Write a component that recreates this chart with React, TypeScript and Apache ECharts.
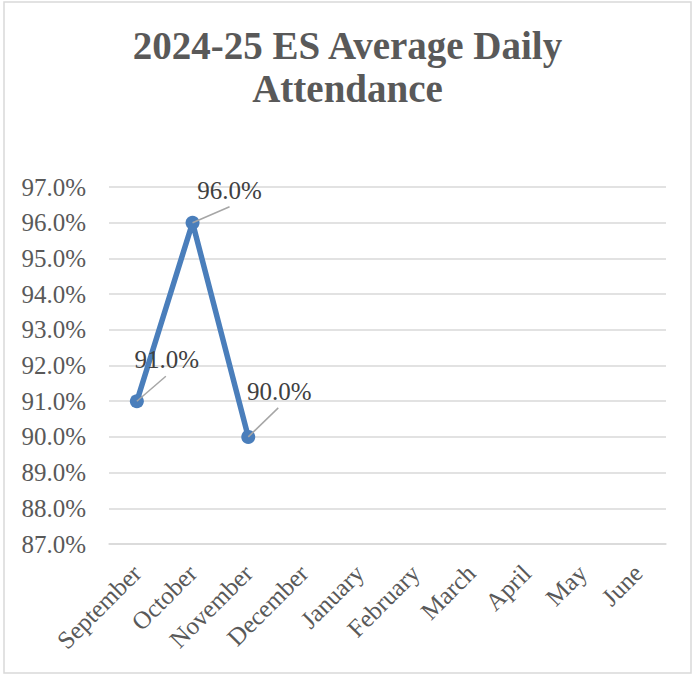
import React, { useEffect, useRef } from "react";
import * as echarts from "echarts";

const months = ["September", "October", "November", "December", "January", "February", "March", "April", "May", "June"];
const attendance = [91.0, 96.0, 90.0];
const yMin = 87;
const yMax = 97;
const yStep = 1;
// leader-line end (lx, ly) and label centre (tx, ty), relative to each point, in px
const labelShift = [
  { lx: 29, ly: -25, tx: 30, ty: -42 },
  { lx: 37, ly: -16, tx: 37, ty: -32 },
  { lx: 30, ly: -29, tx: 31, ty: -45 },
];

export default function App() {
  const ref = useRef<HTMLDivElement>(null);
  useEffect(() => {
    document.body.style.margin = "0";
    const chart = echarts.init(ref.current!, undefined, { renderer: "svg" });
    const font = "'Liberation Serif', serif";
    chart.setOption({
      animation: false,
      backgroundColor: "#ffffff",
      title: {
        text: "2024-25 ES Average Daily\nAttendance",
        left: "center",
        top: 19,
        textStyle: {
          fontFamily: font,
          fontSize: 39,
          lineHeight: 43,
          fontWeight: "bold",
          color: "#595959",
        },
      },
      graphic: [
        {
          type: "rect",
          shape: { x: 4, y: 2, width: 687, height: 671 },
          style: { fill: "none", stroke: "#d9d9d9", lineWidth: 1.5 },
          silent: true,
        },
      ],
      grid: { left: 109, right: 29, top: 187, bottom: 133 },
      xAxis: {
        type: "category",
        data: months,
        boundaryGap: true,
        axisLine: { show: true, lineStyle: { color: "#d9d9d9", width: 1.5 } },
        axisTick: { show: false },
        axisLabel: {
          rotate: 45,
          margin: 25,
          fontFamily: font,
          fontSize: 25,
          color: "#595959",
        },
      },
      yAxis: {
        type: "value",
        min: yMin,
        max: yMax,
        interval: yStep,
        axisLine: { show: false },
        axisTick: { show: false },
        splitLine: { lineStyle: { color: "#d9d9d9", width: 1.5 } },
        axisLabel: {
          margin: 23,
          fontFamily: font,
          fontSize: 25,
          color: "#595959",
          formatter: (v: number) => v.toFixed(1) + "%",
        },
      },
      series: [
        {
          type: "line",
          data: attendance,
          symbol: "circle",
          symbolSize: 14,
          lineStyle: { color: "#4a7ebb", width: 5.5 },
          itemStyle: { color: "#4a7ebb" },
          z: 2,
        },
        {
          type: "custom",
          data: attendance.map((v, i) => [i, v]),
          z: 3,
          silent: true,
          renderItem: (params: any, api: any) => {
            const p = api.coord([api.value(0), api.value(1)]);
            const s = labelShift[params.dataIndex];
            return {
              type: "group",
              children: [
                {
                  type: "line",
                  shape: { x1: p[0], y1: p[1], x2: p[0] + s.lx, y2: p[1] + s.ly },
                  style: { stroke: "#a6a6a6", lineWidth: 1.5 },
                },
                {
                  type: "text",
                  x: p[0] + s.tx,
                  y: p[1] + s.ty,
                  style: {
                    text: Number(api.value(1)).toFixed(1) + "%",
                    fontFamily: font,
                    fontSize: 25,
                    fill: "#404040",
                    align: "center",
                    verticalAlign: "middle",
                  },
                },
              ],
            };
          },
        },
      ],
    });
    return () => chart.dispose();
  }, []);
  return <div ref={ref} style={{ width: 695, height: 677 }} />;
}
